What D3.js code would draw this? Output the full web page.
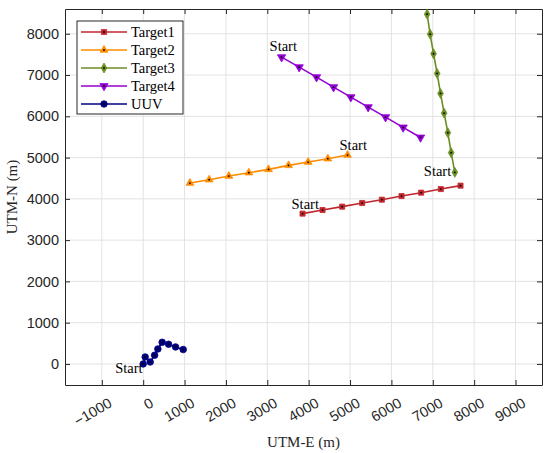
<!DOCTYPE html>
<html>
<head>
<meta charset="utf-8">
<script src="https://cdn.jsdelivr.net/npm/d3@7"></script>
<style>
  body { margin: 0; background: #fff; }
  svg { display: block; }
</style>
</head>
<body>
<div id="chart"></div>
<script>
// ---- data ----
const seriesNames = ['Target1', 'Target2', 'Target3', 'Target4', 'UUV'];

const target1X = [3852, 4335, 4810, 5293, 5769, 6245, 6718, 7194, 7670];
const target1Y = [3642, 3729, 3811, 3899, 3980, 4068, 4150, 4237, 4320];

const target2X = [1129, 1595, 2071, 2554, 3030, 3514, 3987, 4463, 4940];
const target2Y = [4383, 4465, 4552, 4634, 4714, 4811, 4891, 4973, 5061];

const target3X = [6863, 6936, 7018, 7105, 7187, 7274, 7364, 7444, 7533];
const target3Y = [8475, 7990, 7516, 7039, 6554, 6077, 5603, 5119, 4642];

const target4X = [3345, 3770, 4190, 4601, 5019, 5438, 5858, 6283, 6704];
const target4Y = [7433, 7191, 6949, 6707, 6465, 6223, 5981, 5731, 5488];

const uuvX = [0, 48, 169, 276, 355, 459, 614, 783, 967];
const uuvY = [0, 169, 48, 211, 363, 525, 477, 412, 349];

// index of the point that carries the "Start" label
const startIndex = [0, 8, 8, 0, 0];

const xTicks = [-1000, 0, 1000, 2000, 3000, 4000, 5000, 6000, 7000, 8000, 9000];
const yTicks = [0, 1000, 2000, 3000, 4000, 5000, 6000, 7000, 8000];

// ---- styling ----
const colors = ['#c0272d', '#ff8c00', '#6b8e23', '#9400d3', '#000080'];
const symbols = [d3.symbolSquare, d3.symbolTriangle, d3.symbolDiamond, 'tri-down', d3.symbolCircle];
const startOffset = [[-11, -5], [-8, -5], [-31, 4], [-12, -6], [-28, 9]];

const W = 550, H = 453;
const margin = { top: 9, right: 8, bottom: 68, left: 65 };
const width = W - margin.left - margin.right;
const height = H - margin.top - margin.bottom;

const svg = d3.select('#chart').append('svg')
  .attr('width', W)
  .attr('height', H);

const g = svg.append('g')
  .attr('transform', `translate(${margin.left},${margin.top})`);

const x = d3.scaleLinear().domain([-1890, 9640]).range([0, width]);
const y = d3.scaleLinear().domain([-510, 8600]).range([height, 0]);

const axisColor = '#262626';
const sans = '"Liberation Sans", Arial, sans-serif';
const serif = '"Liberation Serif", "Times New Roman", serif';

// grid
g.append('g').selectAll('line').data(xTicks).join('line')
  .attr('x1', d => x(d)).attr('x2', d => x(d))
  .attr('y1', 0).attr('y2', height)
  .attr('stroke', '#e3e3e3').attr('stroke-width', 1);
g.append('g').selectAll('line').data(yTicks).join('line')
  .attr('y1', d => y(d)).attr('y2', d => y(d))
  .attr('x1', 0).attr('x2', width)
  .attr('stroke', '#e3e3e3').attr('stroke-width', 1);

// axes with inner ticks on all four sides
const tickLen = 5;
const xb = g.append('g').attr('transform', `translate(0,${height})`)
  .call(d3.axisBottom(x).tickValues(xTicks).tickSizeInner(-tickLen).tickSizeOuter(0).tickFormat(''));
const xt = g.append('g')
  .call(d3.axisTop(x).tickValues(xTicks).tickSizeInner(-tickLen).tickSizeOuter(0).tickFormat(''));
const yl = g.append('g')
  .call(d3.axisLeft(y).tickValues(yTicks).tickSizeInner(-tickLen).tickSizeOuter(0)
    .tickPadding(6).tickFormat(d3.format('d')));
const yr = g.append('g').attr('transform', `translate(${width},0)`)
  .call(d3.axisRight(y).tickValues(yTicks).tickSizeInner(-tickLen).tickSizeOuter(0).tickFormat(''));

[xb, xt, yl, yr].forEach(a => {
  a.select('.domain').attr('stroke', axisColor).attr('stroke-width', 1);
  a.selectAll('.tick line').attr('stroke', axisColor);
});
yl.selectAll('.tick text')
  .attr('fill', axisColor)
  .style('font-family', sans)
  .style('font-size', '14.5px');

// rotated x tick labels
g.append('g').selectAll('text').data(xTicks).join('text')
  .attr('transform', d => `translate(${x(d) + 6},${height + 12}) rotate(-30)`)
  .attr('text-anchor', 'end')
  .attr('dy', '0.72em')
  .attr('fill', axisColor)
  .style('font-family', sans)
  .style('font-size', '14.5px')
  .text(d => d < 0 ? '\u2212' + Math.abs(d) : d);

// axis labels
g.append('text')
  .attr('x', width / 2)
  .attr('y', height + 62)
  .attr('text-anchor', 'middle')
  .attr('fill', axisColor)
  .style('font-family', serif)
  .style('font-size', '15px')
  .text('UTM-E (m)');

g.append('text')
  .attr('transform', `translate(${-48},${height / 2}) rotate(-90)`)
  .attr('text-anchor', 'middle')
  .attr('fill', axisColor)
  .style('font-family', serif)
  .style('font-size', '15px')
  .text('UTM-N (m)');

// markers
function markerPath(sym) {
  if (sym === 'tri-down') {
    return d3.symbol().type(d3.symbolTriangle).size(30)();
  }
  const size = sym === d3.symbolCircle ? 34 : (sym === d3.symbolDiamond ? 28 : 26);
  return d3.symbol().type(sym).size(size)();
}
function drawMarker(sel, i, px, py) {
  const rot = symbols[i] === 'tri-down' ? ' rotate(180)' : '';
  sel.append('path')
    .attr('d', markerPath(symbols[i]))
    .attr('transform', `translate(${px},${py})${rot}`)
    .attr('fill', colors[i])
    .attr('stroke', colors[i])
    .attr('stroke-width', 0.8);
  sel.append('circle')
    .attr('cx', px).attr('cy', py).attr('r', 0.9)
    .attr('fill', '#000');
}

const allX = [target1X, target2X, target3X, target4X, uuvX];
const allY = [target1Y, target2Y, target3Y, target4Y, uuvY];

const line = d3.line().x(d => x(d[0])).y(d => y(d[1]));

seriesNames.forEach((name, i) => {
  const pts = allX[i].map((v, j) => [v, allY[i][j]]);
  const sg = g.append('g');
  sg.append('path')
    .datum(pts)
    .attr('fill', 'none')
    .attr('stroke', colors[i])
    .attr('stroke-width', 1.6)
    .attr('d', line);
  pts.forEach(p => drawMarker(sg, i, x(p[0]), y(p[1])));

  const s = pts[startIndex[i]];
  g.append('text')
    .attr('x', x(s[0]) + startOffset[i][0])
    .attr('y', y(s[1]) + startOffset[i][1])
    .attr('fill', '#000')
    .style('font-family', serif)
    .style('font-size', '14.5px')
    .text('Start');
});

// legend
const legend = g.append('g').attr('transform', `translate(${77 - margin.left},${21 - margin.top})`);
legend.append('rect')
  .attr('width', 106).attr('height', 93)
  .attr('fill', '#fff')
  .attr('stroke', axisColor)
  .attr('stroke-width', 1);

seriesNames.forEach((name, i) => {
  const ly = 11 + i * 18;
  const row = legend.append('g');
  row.append('line')
    .attr('x1', 4).attr('x2', 50)
    .attr('y1', ly).attr('y2', ly)
    .attr('stroke', colors[i])
    .attr('stroke-width', 1.6);
  drawMarker(row, i, 27, ly);
  row.append('text')
    .attr('x', 54)
    .attr('y', ly)
    .attr('dy', '0.35em')
    .attr('fill', '#000')
    .style('font-family', serif)
    .style('font-size', '14.5px')
    .text(name);
});
</script>
</body>
</html>
